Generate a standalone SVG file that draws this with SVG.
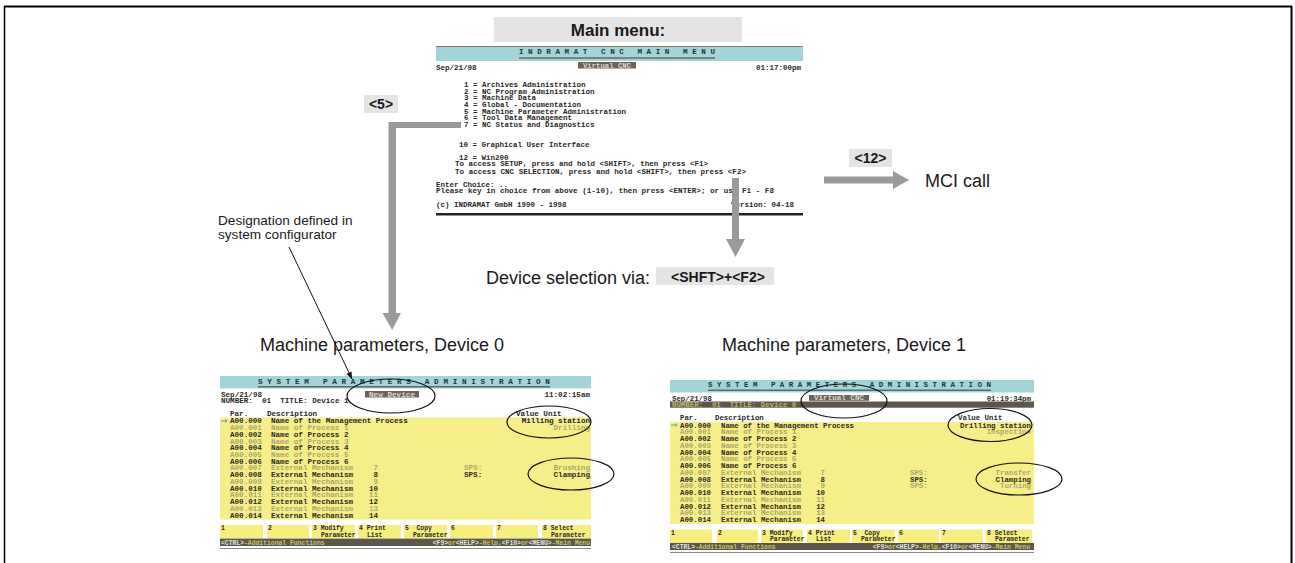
<svg xmlns="http://www.w3.org/2000/svg" width="1295" height="563" viewBox="0 0 1295 563">
<style>
.lbl{font-family:"Liberation Sans",Arial,sans-serif;fill:#1a1a1a}
.b{font-weight:bold}
.mono{font-family:"Liberation Mono","DejaVu Sans Mono",monospace;font-weight:bold;white-space:pre}
.m{font-size:7.5px;fill:#2a2a26}
.L{font-size:7.6px}
.R{font-size:7.4px}
.d{fill:#2b2a1e}
.f{fill:#aea76c}
.t{font-size:7px;fill:#24343a}
.sk{font-size:6.4px;fill:#2b2a1e}
.st{font-size:6.4px;fill:#c9c06a}
.stk{fill:#e2e2da}
.box{fill:#e4e4e4}
.arr{fill:#9a9a9a}
.cyan{fill:#a3d5d8}
.yel{fill:#f6ee88}
.skb{fill:#f6ee7e}
.dark{fill:#5c574a}
.ell{fill:none;stroke:#111;stroke-width:1.2}
.ul{stroke:#5e6a6c;stroke-width:1.6}
</style>
<defs>
<marker id="ah" viewBox="0 0 10 10" refX="10" refY="5" markerWidth="7" markerHeight="7" orient="auto" markerUnits="userSpaceOnUse">
<path d="M0,1 L10,5 L0,9 z" fill="#111"/>
</marker>
</defs>
<rect width="1295" height="563" fill="#fff"/>
<g id="frame" stroke="#000" fill="none">
<line x1="4" y1="6.5" x2="1292" y2="6.5" stroke-width="2"/>
<line x1="4.5" y1="6" x2="4.5" y2="563" stroke-width="1.5"/>
<line x1="1291.5" y1="6" x2="1291.5" y2="563" stroke-width="2"/>
</g>

<g id="main-menu-label">
<rect class="box" x="494" y="17" width="248" height="25"/>
<text class="lbl b" x="618" y="36" font-size="17" text-anchor="middle">Main menu:</text>
</g>

<g id="main-screen">
<rect x="436" y="46" width="367" height="169" fill="#fff"/>
<rect class="cyan" x="436" y="46" width="367" height="15"/>
<line x1="436" y1="46.5" x2="803" y2="46.5" stroke="#8a7a5a" stroke-width="1"/>
<text class="mono t" x="519" y="54" xml:space="preserve" textLength="196" lengthAdjust="spacingAndGlyphs">I N D R A M A T   C N C   M A I N   M E N U</text>
<line class="ul" x1="519" y1="58" x2="715" y2="58"/>
<text class="mono m" x="436" y="69.5">Sep/21/98</text>
<rect x="578" y="62" width="58" height="6.5" fill="#6e6258"/>
<text class="mono" x="607" y="67.5" font-size="6.3" fill="#ddd6cc" text-anchor="middle" textLength="48" lengthAdjust="spacingAndGlyphs">Virtual CNC</text>
<text class="mono m" x="801" y="69.5" text-anchor="end">01:17:00pm</text>
<text class="mono m" x="464" y="87">1 = Archives Administration</text>
<text class="mono m" x="464" y="93.7">2 = NC Program Administration</text>
<text class="mono m" x="464" y="100.2">3 = Machine Data</text>
<text class="mono m" x="464" y="107">4 = Global - Documentation</text>
<text class="mono m" x="464" y="113.5">5 = Machine Parameter Administration</text>
<text class="mono m" x="464" y="120">6 = Tool Data Management</text>
<text class="mono m" x="464" y="126.7">7 = NC Status and Diagnostics</text>
<text class="mono m" x="459" y="146.5">10 = Graphical User Interface</text>
<text class="mono m" x="459" y="160">12 = Win200</text>
<text class="mono m" x="455" y="166.2" textLength="253" lengthAdjust="spacingAndGlyphs">To access SETUP, press and hold &lt;SHIFT&gt;, then press &lt;F1&gt;</text>
<text class="mono m" x="455" y="173.5" textLength="291" lengthAdjust="spacingAndGlyphs">To access CNC SELECTION, press and hold &lt;SHIFT&gt;, then press &lt;F2&gt;</text>
<text class="mono m" x="436" y="186.5">Enter Choice: ..</text>
<text class="mono m" x="436" y="193.2" textLength="338" lengthAdjust="spacingAndGlyphs">Please key in choice from above (1-10), then press &lt;ENTER&gt;; or use F1 - F8</text>
<text class="mono m" x="436" y="206.5">(c) INDRAMAT GmbH 1990 - 1998</text>
<text class="mono m" x="794" y="206.5" text-anchor="end">Version: 04-18</text>
<rect x="436" y="213" width="367" height="2.5" fill="#222"/>
</g>

<g id="label-5">
<rect class="box" x="364" y="95" width="34" height="18"/>
<text class="lbl b" x="381" y="109" font-size="14" text-anchor="middle">&lt;5&gt;</text>
</g>
<g id="label-12">
<rect class="box" x="849" y="149" width="43" height="18"/>
<text class="lbl b" x="870.5" y="163" font-size="14" text-anchor="middle">&lt;12&gt;</text>
</g>
<g id="mci-call">
<text class="lbl" x="925" y="186.5" font-size="18">MCI call</text>
</g>
<g id="device-selection">
<text class="lbl" x="486" y="284" font-size="18">Device selection via:</text>
<rect class="box" x="656" y="267" width="118" height="18"/>
<text class="lbl b" x="718" y="281.5" font-size="14" text-anchor="middle">&lt;SHFT&gt;+&lt;F2&gt;</text>
</g>
<g id="designation-note">
<text class="lbl" x="218" y="225" font-size="13.6">Designation defined in</text>
<text class="lbl" x="218" y="239" font-size="13.6">system configurator</text>
</g>
<g id="title-device0">
<text class="lbl" x="260" y="351" font-size="18">Machine parameters, Device 0</text>
</g>
<g id="title-device1">
<text class="lbl" x="722" y="351" font-size="18">Machine parameters, Device 1</text>
</g>

<g id="screen-device0">
<rect x="220" y="376" width="371" height="173" fill="#fff"/>
<rect class="cyan" x="220" y="376" width="371" height="12.5"/>
<text class="mono t" x="258" y="383.5" xml:space="preserve" textLength="292" lengthAdjust="spacingAndGlyphs">S Y S T E M   P A R A M E T E R S   A D M I N I S T R A T I O N</text>
<line class="ul" x1="258" y1="386.8" x2="550" y2="386.8"/>
<text class="mono L d" x="221" y="396.5">Sep/21/98</text>
<text class="mono L d" x="221" y="403.2" xml:space="preserve">NUMBER:  01  TITLE: Device 1</text>
<rect x="365" y="391" width="54" height="6.5" fill="#6e6258"/>
<text class="mono" x="392" y="396.5" font-size="6.3" fill="#ddd6cc" text-anchor="middle" textLength="46" lengthAdjust="spacingAndGlyphs">New Device</text>
<text class="mono L d" x="590" y="396.5" text-anchor="end">11:02:15am</text>
<text class="mono L d" x="230" y="416">Par.</text>
<text class="mono L d" x="267" y="416">Description</text>
<text class="mono L d" x="516" y="416">Value Unit</text>
<rect class="yel" x="220" y="417.5" width="371" height="102"/>
<path d="M221,421 h6 m-2,-1.5 l2,1.5 l-2,1.5" stroke="#3a9fb0" stroke-width="0.9" fill="none"/>
<g class="mono L">
<text class="d" x="230" y="423.3">A00.000</text><text class="d" x="271" y="423.3">Name of the Management Process</text><text class="d" x="590" y="423.3" text-anchor="end">Milling station</text>
<text class="f" x="230" y="430">A00.001</text><text class="f" x="271" y="430">Name of Process 1</text><text class="f" x="590" y="430" text-anchor="end">Drilling</text>
<text class="d" x="230" y="436.8">A00.002</text><text class="d" x="271" y="436.8">Name of Process 2</text>
<text class="f" x="230" y="443.5">A00.003</text><text class="f" x="271" y="443.5">Name of Process 3</text>
<text class="d" x="230" y="450.2">A00.004</text><text class="d" x="271" y="450.2">Name of Process 4</text>
<text class="f" x="230" y="457">A00.005</text><text class="f" x="271" y="457">Name of Process 5</text>
<text class="d" x="230" y="463.7">A00.006</text><text class="d" x="271" y="463.7">Name of Process 6</text>
<text class="f" x="230" y="470.4">A00.007</text><text class="f" x="271" y="470.4">External Mechanism</text><text class="f" x="378" y="470.4" text-anchor="end">7</text><text class="f" x="464" y="470.4">SPS:</text><text class="f" x="590" y="470.4" text-anchor="end">Brushing</text>
<text class="d" x="230" y="477.1">A00.008</text><text class="d" x="271" y="477.1">External Mechanism</text><text class="d" x="378" y="477.1" text-anchor="end">8</text><text class="d" x="464" y="477.1">SPS:</text><text class="d" x="590" y="477.1" text-anchor="end">Clamping</text>
<text class="f" x="230" y="483.9">A00.009</text><text class="f" x="271" y="483.9">External Mechanism</text><text class="f" x="378" y="483.9" text-anchor="end">9</text>
<text class="d" x="230" y="490.6">A00.010</text><text class="d" x="271" y="490.6">External Mechanism</text><text class="d" x="378" y="490.6" text-anchor="end">10</text>
<text class="f" x="230" y="497.3">A00.011</text><text class="f" x="271" y="497.3">External Mechanism</text><text class="f" x="378" y="497.3" text-anchor="end">11</text>
<text class="d" x="230" y="504.1">A00.012</text><text class="d" x="271" y="504.1">External Mechanism</text><text class="d" x="378" y="504.1" text-anchor="end">12</text>
<text class="f" x="230" y="510.8">A00.013</text><text class="f" x="271" y="510.8">External Mechanism</text><text class="f" x="378" y="510.8" text-anchor="end">13</text>
<text class="d" x="230" y="517.5">A00.014</text><text class="d" x="271" y="517.5">External Mechanism</text><text class="d" x="378" y="517.5" text-anchor="end">14</text>
</g>
<g class="skb">
<rect x="220" y="525" width="43" height="13.5"/><rect x="267" y="525" width="42" height="13.5"/><rect x="312" y="525" width="43" height="13.5"/><rect x="358" y="525" width="43" height="13.5"/>
<rect x="404" y="525" width="43" height="13.5"/><rect x="450" y="525" width="43" height="13.5"/><rect x="496" y="525" width="42" height="13.5"/><rect x="542" y="525" width="49" height="13.5"/>
</g>
<g class="mono sk">
<text x="221" y="530">1</text><text x="268" y="530">2</text>
<text x="313" y="530">3 Modify</text><text x="321" y="536.5">Parameter</text>
<text x="359" y="530">4 Print</text><text x="367" y="536.5">List</text>
<text x="405" y="530" xml:space="preserve">5  Copy</text><text x="413" y="536.5">Parameter</text>
<text x="451" y="530">6</text><text x="497" y="530">7</text>
<text x="543" y="530">8 Select</text><text x="551" y="536.5">Parameter</text>
</g>
<rect class="dark" x="220" y="538.6" width="371" height="7.4"/>
<text class="mono st" x="221" y="544.5"><tspan class="stk">&lt;CTRL&gt;</tspan>-Additional Functions</text>
<text class="mono st" x="590" y="544.5" text-anchor="end"><tspan class="stk">&lt;F9&gt;</tspan>or<tspan class="stk">&lt;HELP&gt;</tspan>-Help,<tspan class="stk">&lt;F10&gt;</tspan>or<tspan class="stk">&lt;MENU&gt;</tspan>-Main Menu</text>
<line x1="220" y1="548.5" x2="591" y2="548.5" stroke="#888" stroke-width="1"/>
<ellipse class="ell" cx="391" cy="396" rx="44" ry="17"/>
<ellipse class="ell" cx="549" cy="422" rx="42" ry="16"/>
<ellipse class="ell" cx="571" cy="474" rx="43" ry="16"/>
</g>

<g id="screen-device1">
<rect x="670" y="380" width="364" height="173" fill="#fff"/>
<rect class="cyan" x="670" y="380" width="364" height="12.5"/>
<text class="mono t" x="708" y="387.2" xml:space="preserve" textLength="283" lengthAdjust="spacingAndGlyphs">S Y S T E M   P A R A M E T E R S   A D M I N I S T R A T I O N</text>
<line class="ul" x1="708" y1="390.3" x2="991" y2="390.3"/>
<text class="mono R d" x="672" y="400.5">Sep/21/98</text>
<rect x="809" y="395" width="60" height="5.8" fill="#6e6258"/>
<text class="mono" x="839" y="400.2" font-size="6.3" fill="#ddd6cc" text-anchor="middle" textLength="50" lengthAdjust="spacingAndGlyphs">Virtual CNC</text>
<text class="mono R d" x="1031" y="400.5" text-anchor="end">01:19:34pm</text>
<rect class="dark" x="670" y="401.5" width="364" height="6.2"/>
<text class="mono R" x="672" y="407" fill="#bdb46a" xml:space="preserve">NUMBER:  01  TITLE: Device 0</text>
<text class="mono R d" x="680" y="420">Par.</text>
<text class="mono R d" x="715" y="420">Description</text>
<text class="mono R d" x="958" y="420">Value Unit</text>
<rect class="yel" x="670" y="422" width="364" height="102"/>
<path d="M671,425 h6 m-2,-1.5 l2,1.5 l-2,1.5" stroke="#3a9fb0" stroke-width="0.9" fill="none"/>
<g class="mono R">
<text class="d" x="680" y="427.5">A00.000</text><text class="d" x="721" y="427.5">Name of the Management Process</text><text class="d" x="1031" y="427.5" text-anchor="end">Drilling station</text>
<text class="f" x="680" y="434.3">A00.001</text><text class="f" x="721" y="434.3">Name of Process 1</text><text class="f" x="1031" y="434.3" text-anchor="end">Inspection</text>
<text class="d" x="680" y="441">A00.002</text><text class="d" x="721" y="441">Name of Process 2</text>
<text class="f" x="680" y="447.8">A00.003</text><text class="f" x="721" y="447.8">Name of Process 3</text>
<text class="d" x="680" y="454.5">A00.004</text><text class="d" x="721" y="454.5">Name of Process 4</text>
<text class="f" x="680" y="461.3">A00.005</text><text class="f" x="721" y="461.3">Name of Process 5</text>
<text class="d" x="680" y="468.1">A00.006</text><text class="d" x="721" y="468.1">Name of Process 6</text>
<text class="f" x="680" y="474.8">A00.007</text><text class="f" x="721" y="474.8">External Mechanism</text><text class="f" x="825" y="474.8" text-anchor="end">7</text><text class="f" x="910" y="474.8">SPS:</text><text class="f" x="1031" y="474.8" text-anchor="end">Transfer</text>
<text class="d" x="680" y="481.6">A00.008</text><text class="d" x="721" y="481.6">External Mechanism</text><text class="d" x="825" y="481.6" text-anchor="end">8</text><text class="d" x="910" y="481.6">SPS:</text><text class="d" x="1031" y="481.6" text-anchor="end">Clamping</text>
<text class="f" x="680" y="488.3">A00.009</text><text class="f" x="721" y="488.3">External Mechanism</text><text class="f" x="825" y="488.3" text-anchor="end">9</text><text class="f" x="910" y="488.3">SPS:</text><text class="f" x="1031" y="488.3" text-anchor="end">Turning</text>
<text class="d" x="680" y="495.1">A00.010</text><text class="d" x="721" y="495.1">External Mechanism</text><text class="d" x="825" y="495.1" text-anchor="end">10</text>
<text class="f" x="680" y="501.9">A00.011</text><text class="f" x="721" y="501.9">External Mechanism</text><text class="f" x="825" y="501.9" text-anchor="end">11</text>
<text class="d" x="680" y="508.6">A00.012</text><text class="d" x="721" y="508.6">External Mechanism</text><text class="d" x="825" y="508.6" text-anchor="end">12</text>
<text class="f" x="680" y="515.4">A00.013</text><text class="f" x="721" y="515.4">External Mechanism</text><text class="f" x="825" y="515.4" text-anchor="end">13</text>
<text class="d" x="680" y="522.1">A00.014</text><text class="d" x="721" y="522.1">External Mechanism</text><text class="d" x="825" y="522.1" text-anchor="end">14</text>
</g>
<g class="skb">
<rect x="670" y="529.6" width="42" height="13.4"/><rect x="717" y="529.6" width="41" height="13.4"/><rect x="761" y="529.6" width="42" height="13.4"/><rect x="807" y="529.6" width="43" height="13.4"/>
<rect x="852" y="529.6" width="43" height="13.4"/><rect x="898" y="529.6" width="41" height="13.4"/><rect x="941" y="529.6" width="42" height="13.4"/><rect x="986" y="529.6" width="46" height="13.4"/>
</g>
<g class="mono sk">
<text x="671" y="534.5">1</text><text x="718" y="534.5">2</text>
<text x="762" y="534.5">3 Modify</text><text x="770" y="541">Parameter</text>
<text x="808" y="534.5">4 Print</text><text x="816" y="541">List</text>
<text x="853" y="534.5" xml:space="preserve">5  Copy</text><text x="861" y="541">Parameter</text>
<text x="899" y="534.5">6</text><text x="942" y="534.5">7</text>
<text x="987" y="534.5">8 Select</text><text x="995" y="541">Parameter</text>
</g>
<rect class="dark" x="670" y="543" width="364" height="7"/>
<text class="mono st" x="672" y="548.7"><tspan class="stk">&lt;CTRL&gt;</tspan>-Additional Functions</text>
<text class="mono st" x="1030" y="548.7" text-anchor="end"><tspan class="stk">&lt;F9&gt;</tspan>or<tspan class="stk">&lt;HELP&gt;</tspan>-Help,<tspan class="stk">&lt;F10&gt;</tspan>or<tspan class="stk">&lt;MENU&gt;</tspan>-Main Menu</text>
<line x1="670" y1="552.5" x2="1034" y2="552.5" stroke="#888" stroke-width="1"/>
<ellipse class="ell" cx="844" cy="401" rx="43" ry="17"/>
<ellipse class="ell" cx="990" cy="425" rx="42" ry="16.5"/>
<ellipse class="ell" cx="1019" cy="479" rx="43" ry="16"/>
</g>

<g id="connectors">
<path class="arr" d="M461,122 V128 H396 V313 H401 L392.2,330 L382.5,313 H388.5 V122 Z"/>
<path class="arr" d="M732,178 H739 V239 H745 L735.5,257 L726,239 H732 Z"/>
<path class="arr" d="M824,176.5 H893 V171 L909,180 L893,189 V183.5 H824 Z"/>
<line x1="289" y1="247" x2="352" y2="379" stroke="#111" stroke-width="1" marker-end="url(#ah)"/>
</g>
</svg>
